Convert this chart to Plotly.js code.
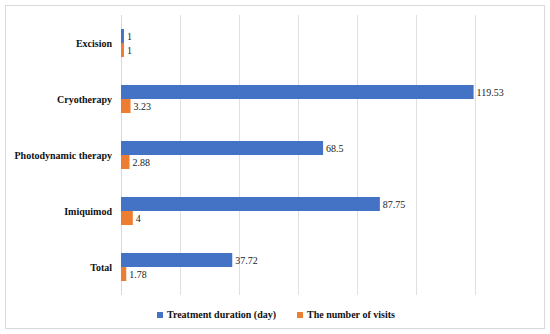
<!DOCTYPE html>
<html><head><meta charset="utf-8">
<script src="https://cdn.plot.ly/plotly-3.0.1.min.js"></script>
<style>
body{margin:0;background:#fff}
#wrap{position:relative;width:550px;height:334px;overflow:hidden}
#c{width:550px;height:334px}
#c text{font-family:"Liberation Serif" !important}
#frame{position:absolute;left:5px;top:5px;width:538px;height:322px;border:1px solid #d9d9d9;pointer-events:none}
#fl{position:absolute;left:20px;top:20px;visibility:hidden;font-family:"Liberation Serif";font-size:10px}
#fl b{font-weight:bold}
</style>
</head><body><div id="wrap"><div id="c"></div><div id="frame"></div><div id="fl">Aa <b>Aa</b></div></div>
<script>
const categories = ["Excision", "Cryotherapy", "Photodynamic therapy", "Imiquimod", "Total"];
const durationDays = [1, 119.53, 68.5, 87.75, 37.72];
const visits = [1, 3.23, 2.88, 4, 1.78];
const seriesNames = ["Treatment duration (day)", "The number of visits"];
const colors = ['#4472C4', '#ED7D31'];

const fontFam = 'Liberation Serif';
const traces = [
  {type:'bar', orientation:'h', y:categories, x:durationDays, name:seriesNames[0],
   marker:{color:colors[0]}, text:durationDays.map(String), textposition:'outside',
   cliponaxis:false, textfont:{family:fontFam, size:10, color:'#222'}},
  {type:'bar', orientation:'h', y:categories, x:visits, name:seriesNames[1],
   marker:{color:colors[1]}, text:visits.map(String), textposition:'outside',
   cliponaxis:false, textfont:{family:fontFam, size:10, color:'#222'}}
];
// legend drawn as annotations + small square keys (paper coords)
const legendKeys = [[0.0872, 0.1017], [0.4262, 0.4407]];
const legendTextX = [0.1065, 0.4455];
const layout = {
  width:550, height:334,
  margin:{l:121, r:16, t:15, b:39},
  paper_bgcolor:'#fff', plot_bgcolor:'#fff',
  barmode:'group', bargap:0.5, bargroupgap:0,
  font:{family:fontFam, color:'#000'},
  xaxis:{range:[0,140], dtick:20, showticklabels:false, showgrid:true, gridcolor:'#e0e0e0',
         zeroline:true, zerolinecolor:'#d9d9d9', zerolinewidth:1, showline:false, fixedrange:true},
  yaxis:{autorange:'reversed', type:'category', showgrid:false, zeroline:false,
         tickfont:{family:fontFam, size:10, color:'#111', weight:'bold'}, ticklabelstandoff:8},
  showlegend:false,
  shapes: seriesNames.map((n,i)=>({type:'rect', xref:'paper', yref:'paper',
          x0:legendKeys[i][0], x1:legendKeys[i][1], y0:-0.0821, y1:-0.0607,
          fillcolor:colors[i], line:{width:0}})),
  annotations: seriesNames.map((n,i)=>({text:n, xref:'paper', yref:'paper', x:legendTextX[i], xanchor:'left',
          y:-0.0714, yanchor:'middle', showarrow:false, font:{family:fontFam, size:10, weight:'bold', color:'#111'}}))
};
function draw(){ Plotly.newPlot('c', traces, layout, {displayModeBar:false, staticPlot:true}); }
if (document.fonts && document.fonts.load) {
  Promise.all([document.fonts.load('10px "Liberation Serif"'), document.fonts.load('bold 10px "Liberation Serif"')])
    .then(draw, draw);
} else { draw(); }
</script></body></html>
